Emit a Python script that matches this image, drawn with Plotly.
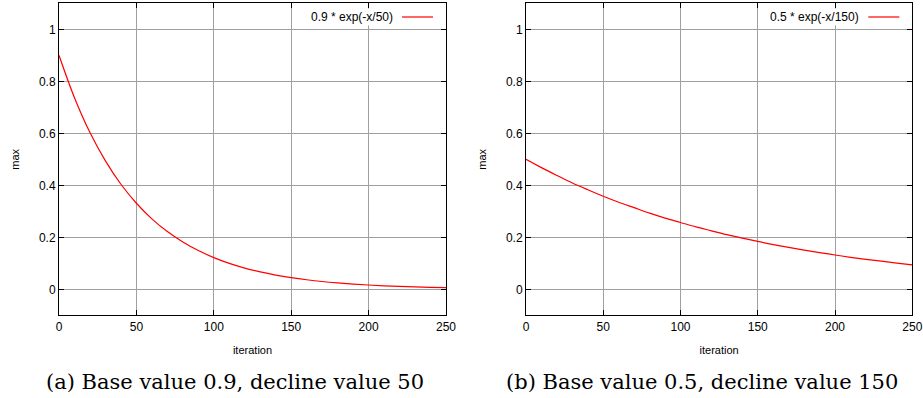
import plotly.graph_objects as go

# Data
iterations = [0, 10, 20, 30, 40, 50, 60, 70, 80, 90, 100, 110, 120, 130, 140,
              150, 160, 170, 180, 190, 200, 210, 220, 230, 240, 250]
max_a = [0.900, 0.737, 0.603, 0.494, 0.404, 0.331, 0.271, 0.222, 0.182, 0.149,
         0.122, 0.0997, 0.0816, 0.0668, 0.0547, 0.0448, 0.0367, 0.0300, 0.0246,
         0.0201, 0.0165, 0.0135, 0.0110, 0.0090, 0.0074, 0.0061]
max_b = [0.500, 0.468, 0.438, 0.409, 0.383, 0.358, 0.335, 0.314, 0.293, 0.274,
         0.257, 0.240, 0.225, 0.210, 0.197, 0.184, 0.172, 0.161, 0.151, 0.141,
         0.132, 0.123, 0.115, 0.108, 0.101, 0.094]
label_a = "0.9 * exp(-x/50)"
label_b = "0.5 * exp(-x/150)"
caption_a = "(a) Base value 0.9, decline value 50"
caption_b = "(b) Base value 0.5, decline value 150"
x_ticks = [0, 50, 100, 150, 200, 250]
y_ticks = [0, 0.2, 0.4, 0.6, 0.8, 1]
y_tick_text = ["0", "0.2", "0.4", "0.6", "0.8", "1"]

W, H = 923, 398
def px(x):
    return x / W
def py(y):
    return 1 - y / H

dom_a = [px(59), px(446)]
dom_b = [px(526), px(912.3)]
dom_y = [py(315.3), py(3.3)]

fig = go.Figure()
fig.add_trace(go.Scatter(x=iterations, y=max_a, mode="lines", name=label_a,
                         line=dict(color="#ff0000", width=1.2, shape="spline"),
                         xaxis="x", yaxis="y", showlegend=False))
fig.add_trace(go.Scatter(x=iterations, y=max_b, mode="lines", name=label_b,
                         line=dict(color="#ff0000", width=1.2, shape="spline"),
                         xaxis="x2", yaxis="y2", showlegend=False))

sans = "Liberation Sans, Arial, sans-serif"
tick_font = dict(family=sans, size=12, color="#000")
common_x = dict(range=[0, 250], tickvals=x_ticks, showgrid=True, gridcolor="#a0a0a0",
                gridwidth=1, showline=True, linecolor="#000", linewidth=1, mirror="ticks",
                ticks="inside", ticklen=5, tickcolor="#000", zeroline=False,
                tickfont=tick_font, automargin=False,
                title=dict(text="iteration", font=dict(family=sans, size=11, color="#000"), standoff=13))
common_y = dict(range=[-0.1, 1.1], tickvals=y_ticks, ticktext=y_tick_text, showgrid=True,
                gridcolor="#a0a0a0", gridwidth=1, showline=True, linecolor="#000",
                linewidth=1, mirror="ticks", ticks="inside", ticklen=5, tickcolor="#000",
                zeroline=False, tickfont=tick_font, automargin=False,
                title=dict(text="max", font=dict(family=sans, size=11, color="#000"), standoff=17))

fig.update_layout(
    width=W, height=H, margin=dict(l=0, r=0, t=0, b=0, autoexpand=False),
    paper_bgcolor="white", plot_bgcolor="white",
    xaxis=dict(domain=dom_a, anchor="y", **common_x),
    yaxis=dict(domain=dom_y, anchor="x", **common_y),
    xaxis2=dict(domain=dom_b, anchor="y2", **common_x),
    yaxis2=dict(domain=dom_y, anchor="x2", **common_y),
)

legend_font = dict(family=sans, size=12, color="#000")
# in-plot key (text left of sample line, as in gnuplot)
for dom, lab in ((dom_a, label_a), (dom_b, label_b)):
    x0, x1 = dom
    right_px = x1 * W
    fig.add_annotation(x=(right_px - 51) / W, y=py(17), xref="paper", yref="paper",
                       text=lab, showarrow=False, xanchor="right", yanchor="middle",
                       font=legend_font, bgcolor="white", borderpad=1)
    fig.add_shape(type="line", xref="paper", yref="paper",
                  x0=(right_px - 44) / W, x1=(right_px - 13) / W, y0=py(17), y1=py(17),
                  line=dict(color="#ff0000", width=1.2))

cap_font = dict(family="DejaVu Serif, Liberation Serif, serif", size=21, color="#000")
fig.add_annotation(x=px(235), y=py(382), xref="paper", yref="paper", text=caption_a,
                   showarrow=False, xanchor="center", yanchor="middle", font=cap_font)
fig.add_annotation(x=px(702), y=py(382), xref="paper", yref="paper", text=caption_b,
                   showarrow=False, xanchor="center", yanchor="middle", font=cap_font)

fig.write_html("out.html", config={"displayModeBar": False},
               post_script="document.body.style.margin='0';document.body.style.padding='0';document.body.style.overflow='hidden';")
